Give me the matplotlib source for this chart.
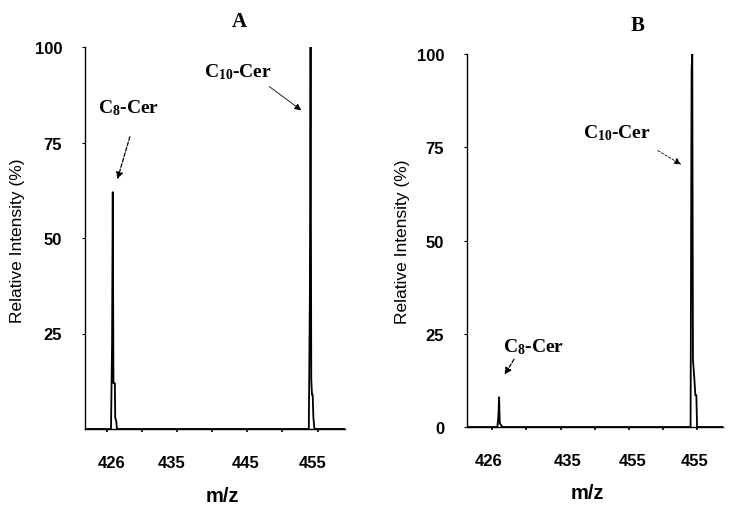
import numpy as np
import matplotlib
matplotlib.use('Agg')
import matplotlib.pyplot as plt

plt.rcParams['font.family'] = ['Liberation Sans', 'DejaVu Sans']
plt.rcParams['mathtext.fontset'] = 'custom'
plt.rcParams['mathtext.rm'] = 'Liberation Serif:bold'
plt.rcParams['mathtext.default'] = 'rm'

# panel A spectrum (m/z, relative intensity %)
mz_a = [421.9, 425.6, 425.75, 425.85, 425.95, 426.15, 426.2, 426.35, 426.45,
        453.75, 453.9, 454.0, 454.1, 454.2, 454.3, 454.4, 454.55, 458.9]
int_a = [0, 0, 22, 62, 12, 12, 3, 2, 0,
         0, 35, 100, 13, 9, 9, 3, 0, 0]

# panel B spectrum
mz_b = [421.3, 425.75, 425.9, 426.0, 426.1, 426.3, 426.45,
        454.05, 454.2, 454.3, 454.4, 454.6, 454.75, 454.9, 455.0, 458.8]
int_b = [0, 0, 3, 8, 1, 0.5, 0,
         0, 96, 100, 18, 13, 8.5, 8.5, 0, 0]

xtick_marks = [425, 430, 435, 440, 445, 450, 455]
xlabels_a = ['426', '435', '445', '455']
xlabels_b = ['426', '435', '455', '455']
xlabel_pos_a = [425.7, 434.2, 444.8, 454.3]
xlabel_pos_b = [424.4, 436.0, 445.5, 454.7]
yticks_a = [25, 50, 75, 100]
yticks_b = [0, 25, 50, 75, 100]

fig = plt.figure(figsize=(7.31, 5.10), dpi=100)
ax_a = fig.add_axes([85/731, 1 - 430/510, 260/731, 382/510])
ax_b = fig.add_axes([467/731, 1 - 428/510, 256/731, 373/510])


def style(ax, mz, inten, xlim, yticks, lab_pos, labs):
    ax.plot(mz, inten, color='black', lw=1.3)
    ax.set_xlim(*xlim)
    ax.set_ylim(0, 100)
    for s in ['top', 'right']:
        ax.spines[s].set_visible(False)
    for s in ['left', 'bottom']:
        ax.spines[s].set_linewidth(1.0)
    ax.set_xticks(xtick_marks)
    ax.set_xticklabels([])
    ax.set_xticks(lab_pos, minor=True)
    ax.set_xticklabels(labs, minor=True, fontsize=12, fontweight='bold')
    ax.tick_params(axis='x', which='major', length=2.5, width=1.2, direction='out')
    ax.tick_params(axis='x', which='minor', length=0, pad=19)
    ax.set_yticks(yticks)
    ax.set_yticklabels([str(t) for t in yticks], fontsize=12, fontweight='bold')
    ax.tick_params(axis='y', length=2, width=0.8, pad=14.5)
    ax.set_ylabel('Relative Intensity (%)', fontsize=12.5)
    ax.set_xlabel('m/z', fontsize=14.5, fontweight='bold')


style(ax_a, mz_a, int_a, (421.9, 458.9), yticks_a, xlabel_pos_a, xlabels_a)
style(ax_b, mz_b, int_b, (421.3, 458.8), yticks_b, xlabel_pos_b, xlabels_b)

ax_a.yaxis.set_label_coords(-0.232, 0.495)
ax_b.yaxis.set_label_coords(-0.224, 0.5)
ax_a.xaxis.set_label_coords(0.527, -0.148)
ax_b.xaxis.set_label_coords(0.469, -0.149)

serif = 'Liberation Serif'
ax_a.text(0.592, 1.068, 'A', transform=ax_a.transAxes, ha='center', va='center',
          fontsize=15, fontweight='bold', family=serif)
ax_b.text(0.668, 1.078, 'B', transform=ax_b.transAxes, ha='center', va='center',
          fontsize=15, fontweight='bold', family=serif)

# peak labels and arrows
ax_a.text(423.7, 83.0, 'C$_{8}$-Cer', ha='left', va='baseline',
          fontsize=14, fontweight='bold', family=serif)
ax_a.annotate('', xy=(426.4, 64.7), xytext=(428.4, 77.2),
              arrowprops=dict(arrowstyle='-|>', color='black', lw=0.9,
                              linestyle=(0, (3, 1.5)), mutation_scale=10))
ax_a.text(438.9, 92.4, 'C$_{10}$-Cer', ha='left', va='baseline',
          fontsize=14, fontweight='bold', family=serif)
ax_a.annotate('', xy=(453.0, 83.0), xytext=(447.8, 90.1),
              arrowprops=dict(arrowstyle='-|>', color='black', lw=0.6,
                              mutation_scale=10))

ax_b.text(438.3, 77.7, 'C$_{10}$-Cer', ha='left', va='baseline',
          fontsize=14, fontweight='bold', family=serif)
ax_b.annotate('', xy=(453.0, 70.0), xytext=(448.9, 74.5),
              arrowprops=dict(arrowstyle='-|>', color='black', lw=0.6,
                              linestyle=(0, (3, 2)), mutation_scale=10))
ax_b.text(426.6, 20.4, 'C$_{8}$-Cer', ha='left', va='baseline',
          fontsize=14, fontweight='bold', family=serif)
ax_b.annotate('', xy=(426.6, 13.4), xytext=(428.4, 18.8),
              arrowprops=dict(arrowstyle='-|>', color='black', lw=0.9,
                              linestyle=(0, (3, 1.5)), mutation_scale=10))

fig.savefig('out.png', dpi=100)
